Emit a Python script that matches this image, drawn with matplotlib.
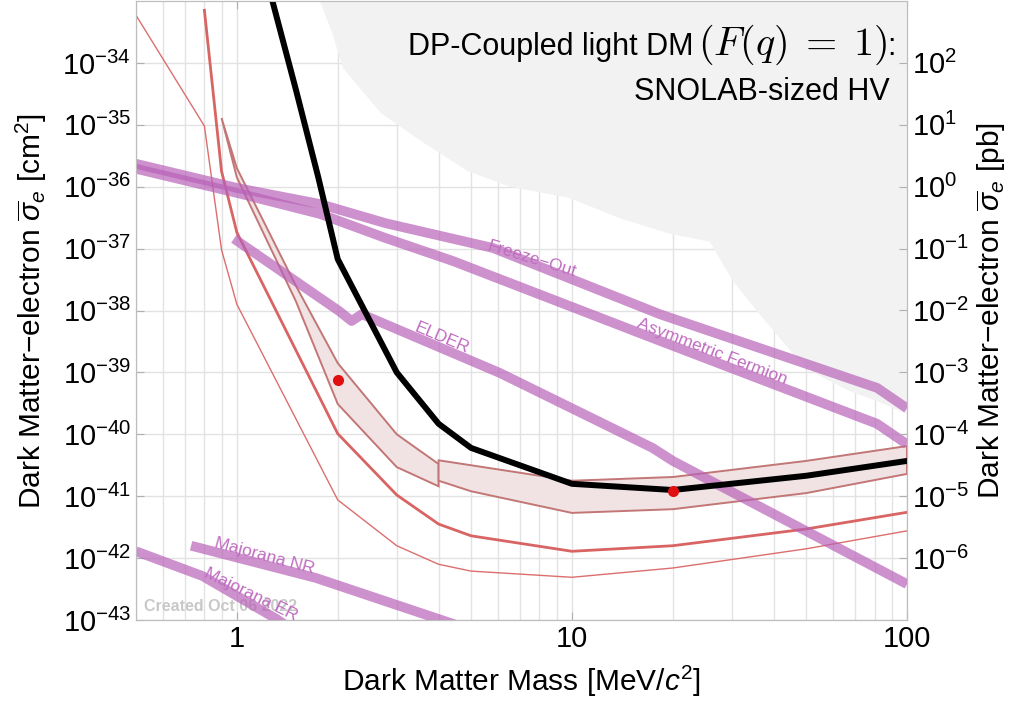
import numpy as np
import matplotlib
matplotlib.use('Agg')
import matplotlib.pyplot as plt
from matplotlib import ticker
from matplotlib.transforms import IdentityTransform

plt.rcParams['font.family'] = ['Liberation Sans', 'DejaVu Sans']
plt.rcParams['mathtext.fontset'] = 'custom'
plt.rcParams['mathtext.rm'] = 'Liberation Sans'
plt.rcParams['mathtext.it'] = 'Liberation Sans:italic'
plt.rcParams['mathtext.bf'] = 'Liberation Sans:bold'

# --- data (mass in MeV, log10 of cross section in cm^2) ---
gray_x = [1.77, 1.93, 2.07, 2.69, 3.54, 4.89, 6.53, 9.8, 13.9, 19.6, 25.8,
          30.2, 36.3, 45.7, 53.7, 67.3, 81, 100]
gray_y = [-33.0, -33.53, -34.08, -34.81, -35.26, -35.75, -36.00, -36.18, -36.51,
          -36.76, -36.89, -37.52, -38.06, -38.70, -39.03, -39.30, -39.46, -39.67]

thin_x = [0.5, 0.8, 0.9, 1, 2, 3, 4, 5, 10, 20, 50, 100]
thin_y = [-33.23, -35.02, -37.02, -37.9, -41.06, -41.80, -42.10, -42.21, -42.31,
          -42.16, -41.85, -41.56]

thick_x = [0.8, 0.9, 1, 2, 3, 4, 5, 10, 20, 50, 100]
thick_y = [-33.15, -35.75, -36.74, -39.99, -40.98, -41.45, -41.64, -41.89, -41.80,
           -41.53, -41.26]

bandA_x = [0.9, 1.0, 1.5, 2, 3, 4]
bandA_hi = [-34.89, -35.7, -37.6, -38.85, -40.0, -40.48]
bandA_lo = [-34.89, -35.85, -37.85, -39.51, -40.53, -40.84]

bandB_x = [4, 5, 10, 20, 50, 100]
bandB_hi = [-40.42, -40.5, -40.75, -40.69, -40.43, -40.19]
bandB_lo = [-40.75, -40.92, -41.27, -41.21, -40.95, -40.64]

black_x = [1.2, 1.5, 1.75, 2, 3, 4, 5, 10, 20, 50, 100]
black_y = [-32.45, -34.43, -35.85, -37.17, -39.0, -39.83, -40.22, -40.80, -40.9,
           -40.67, -40.43]

dot_x = [2, 20]
dot_y = [-39.12, -40.92]

freeze_x = [0.5, 1, 1.77, 2.78, 5.81, 18.3, 81.4, 100]
freeze_y = [-35.63, -36.02, -36.28, -36.59, -36.99, -38.06, -39.25, -39.58]

asym_x = [0.5, 1, 1.77, 2.78, 4.41, 18.3, 81.4, 100]
asym_y = [-35.71, -36.10, -36.44, -36.83, -37.20, -38.49, -39.83, -40.16]

elder_x = [0.98, 2.02, 2.2, 2.36, 6.1, 17.4, 20, 100]
elder_y = [-36.84, -38.01, -38.17, -38.06, -39.01, -40.22, -40.43, -42.42]

majNR_x = [0.73, 1.72, 3.93, 5]
majNR_y = [-41.80, -42.32, -42.97, -43.16]

majER_x = [0.5, 0.79, 1.31, 1.6]
majER_y = [-41.89, -42.29, -42.98, -43.3]

def p(v):
    return 10.0 ** np.array(v)

fig = plt.figure(figsize=(10.24, 7.05), dpi=100)
ax = fig.add_axes([136/1024, 1-620/705, 771/1024, 619/705])
ax.set_xscale('log')
ax.set_yscale('log')
ax.set_xlim(0.5, 100)
ax.set_ylim(1e-43, 1e-33)
ax.set_axisbelow(True)

# excluded region
ax.fill(list(gray_x) + [100, gray_x[0]], p(list(gray_y) + [-31, -31]),
        color='#f2f2f2', lw=0, zorder=1)

# projections
ax.plot(thin_x, p(thin_y), color='#dc6e6e', lw=1.0, zorder=3)
ax.plot(thick_x, p(thick_y), color='#d86464', lw=2.0, zorder=3)
for bx, bh, bl in [(bandA_x, bandA_hi, bandA_lo), (bandB_x, bandB_hi, bandB_lo)]:
    ax.fill(list(bx) + list(bx[::-1]), p(list(bh) + list(bl[::-1])),
            facecolor='#f1e3e3', edgecolor='#c27676', lw=1.4, zorder=3)

# theory targets
pc = '#b862b8'
for xs, ys in [(freeze_x, freeze_y), (asym_x, asym_y), (elder_x, elder_y),
               (majNR_x, majNR_y), (majER_x, majER_y)]:
    ax.plot(xs, p(ys), color=pc, alpha=0.7, lw=7, solid_capstyle='butt', zorder=5)

ax.plot(black_x, p(black_y), color='black', lw=4.3, zorder=6)
ax.plot(dot_x, p(dot_y), 'o', color='#e01010', ms=8, mec='none', zorder=8)

tc = '#c06cc0'
lab = dict(color=tc, fontsize=12.5, ha='center', va='center', rotation_mode='anchor', zorder=7)
ax.text(7.6, 6.8e-38, 'Freeze\u2212Out', rotation=-17, **lab)
ax.text(26.2, 2.2e-39, 'Asymmetric Fermion', rotation=-21, **lab)
ax.text(4.09, 3.6e-39, 'ELDER', rotation=-23, **lab)
ax.text(1.21, 1.07e-42, 'Majorana NR', rotation=-15, **lab)
ax.text(1.10, 2.6e-43, 'Majorana ER', rotation=-26, **lab)
ax.text(0.01, 0.01, 'Created Oct 06 2022', transform=ax.transAxes, color='#c8c8c8',
        fontsize=11.5, fontweight='bold', ha='left', va='bottom', zorder=4)

# title: sans text + larger Computer Modern math, assembled right to left
renderer = fig.canvas.get_renderer()
y1 = 705 - 55
t_colon = fig.text(896, y1, ':', transform=IdentityTransform(), ha='right',
                   va='baseline', fontsize=22, zorder=9)
xl = t_colon.get_window_extent(renderer).x0
t_math = fig.text(xl, y1, '$(F(q)\\;=\\;1)$', transform=IdentityTransform(), ha='right',
                  va='baseline', fontsize=29, math_fontfamily='cm', zorder=9)
xl = t_math.get_window_extent(renderer).x0
fig.text(xl - 4, y1, 'DP-Coupled light DM', transform=IdentityTransform(), ha='right',
         va='baseline', fontsize=22, zorder=9)
fig.text(890, 705 - 100, 'SNOLAB-sized HV', transform=IdentityTransform(),
         ha='right', va='baseline', fontsize=22, zorder=9)

# axes styling
ax.grid(True, which='major', color='#e2e2e2', lw=1.0)
ax.grid(True, which='minor', axis='x', color='#e2e2e2', lw=1.0)
ax.set_xticks([1, 10, 100])
ax.set_xticklabels(['1', '10', '100'])
ax.set_yticks([10.0 ** k for k in range(-43, -33)])
ax.yaxis.set_minor_locator(ticker.NullLocator())
ax.tick_params(which='major', direction='in', length=6, color='#b0b0b0',
               labelsize=21, top=True, right=False)
ax.tick_params(which='minor', length=0)
for s in ax.spines.values():
    s.set_color('#bdbdbd')
ax.set_xlabel('Dark Matter Mass [MeV/$c^2$]', fontsize=21.5, labelpad=8)
ax.set_ylabel('Dark Matter\u2212electron $\\overline{\\sigma}_e$ [cm$^2$]',
              fontsize=21.5, labelpad=10)

ax2 = ax.twinx()
ax2.set_yscale('log')
ax2.set_ylim(1e-7, 1e3)
ax2.set_yticks([10.0 ** k for k in range(-6, 3)])
ax2.yaxis.set_minor_locator(ticker.NullLocator())
ax2.tick_params(which='major', direction='in', length=6, color='#b0b0b0', labelsize=21)
for s in ax2.spines.values():
    s.set_color('#bdbdbd')
ax2.set_ylabel('Dark Matter\u2212electron $\\overline{\\sigma}_e$ [pb]', fontsize=21.5,
               labelpad=4)

fig.savefig('out.png', dpi=100)
